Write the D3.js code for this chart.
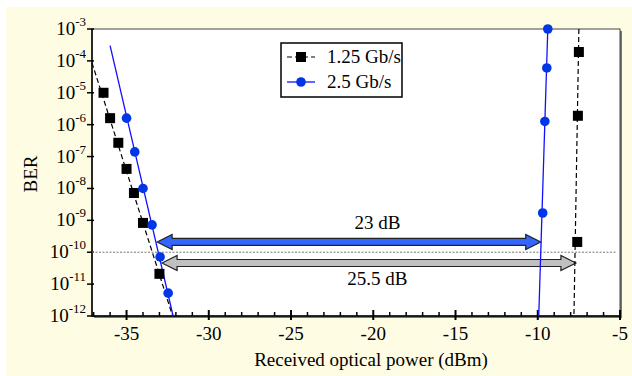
<!DOCTYPE html>
<html>
<head>
<meta charset="utf-8">
<script src="https://cdn.jsdelivr.net/npm/d3@7"></script>
<style>
  body { margin: 0; background: #fff; }
  svg, text, tspan { font-family: "Liberation Serif", Tinos, serif; }
  text { fill: #000; }
</style>
</head>
<body>
<svg width="632" height="376"></svg>
<script>
// measured points, 1.25 Gb/s (black squares)
var power125 = [-36.4, -36.0, -35.5, -35.0, -34.55, -34.0, -33.0, -7.6, -7.56, -7.5];
var ber125 = [1e-5, 1.6e-6, 2.7e-7, 4.1e-8, 7.2e-9, 8.3e-10, 2.1e-11, 2.1e-10, 1.9e-6, 1.9e-4];
// measured points, 2.5 Gb/s (blue circles)
var power25 = [-35.0, -34.5, -34.0, -33.45, -32.96, -32.47, -9.7, -9.57, -9.45, -9.39];
var ber25 = [1.6e-6, 1.4e-7, 1e-8, 7.2e-10, 7.1e-11, 5.2e-12, 1.7e-9, 1.26e-6, 6e-5, 1e-3];
// fitted lines (start / end)
var fit125Left = [[-37.1, 8.7e-5], [-32.2, 1e-12]];
var fit125Right = [[-7.5, 1e-3], [-7.8, 1e-12]];
var fit25Left = [[-36.0, 3e-4], [-32.17, 1e-12]];
var fit25Right = [[-9.39, 1e-3], [-9.94, 1e-12]];
// power penalty arrows
var arrows = [
  {x0: -33.14, x1: -9.82, ber: 2.1e-10, label: "23 dB", labelBer: 8.3e-10, fill: "#3366ff"},
  {x0: -32.84, x1: -7.68, ber: 4.6e-11, label: "25.5 dB", labelBer: 1.45e-11, fill: "#c0c0c0"}
];
var xTicks = [-35, -30, -25, -20, -15, -10, -5];
var yExps = [-3, -4, -5, -6, -7, -8, -9, -10, -11, -12];
var seriesNames = ["1.25 Gb/s", "2.5 Gb/s"];

var svg = d3.select("svg");
var margin = {top: 29, right: 12, bottom: 60, left: 92};
var width = 632, height = 376;

svg.append("rect")
  .attr("x", 6).attr("y", 7)
  .attr("width", 626).attr("height", 369)
  .attr("fill", "#fefde3");

var x = d3.scaleLinear().domain([-37.1, -5]).range([margin.left, width - margin.right]);
var y = d3.scaleLog().domain([1e-12, 1e-3]).range([height - margin.bottom, margin.top]);

// plot area with a small shadow
svg.append("rect")
  .attr("x", x.range()[0] + 2).attr("y", y.range()[1] + 2)
  .attr("width", x.range()[1] - x.range()[0]).attr("height", y.range()[0] - y.range()[1])
  .attr("fill", "#777");
svg.append("rect")
  .attr("x", x.range()[0]).attr("y", y.range()[1])
  .attr("width", x.range()[1] - x.range()[0]).attr("height", y.range()[0] - y.range()[1])
  .attr("fill", "#fff").attr("stroke", "#444").attr("stroke-width", 1);

// x axis
var xAxis = svg.append("g").attr("transform", "translate(0," + y.range()[0] + ")");
xAxis.append("line").attr("x1", x.range()[0]).attr("x2", x.range()[1])
  .attr("stroke", "#000").attr("stroke-width", 1.5);
xAxis.selectAll("line.minor").data(d3.range(-37, -4))
  .enter().append("line")
  .attr("x1", function(d) { return x(d); }).attr("x2", function(d) { return x(d); })
  .attr("y1", function(d) { return d % 5 === 0 ? -6 : -4; })
  .attr("y2", function(d) { return d % 5 === 0 ? 4 : 0; })
  .attr("stroke", "#000").attr("stroke-width", function(d) { return d % 5 === 0 ? 2 : 1.5; });
xAxis.selectAll("text").data(xTicks).enter().append("text")
  .attr("x", function(d) { return x(d); }).attr("y", 24)
  .attr("text-anchor", "middle").style("font-size", "19px")
  .text(function(d) { return d; });

// y axis
var yAxis = svg.append("g").attr("transform", "translate(" + x.range()[0] + ",0)");
yAxis.append("line").attr("y1", y.range()[0]).attr("y2", y.range()[1])
  .attr("stroke", "#000").attr("stroke-width", 1.5);
yAxis.selectAll("line.tick").data(yExps).enter().append("line")
  .attr("x1", -5).attr("x2", 2)
  .attr("y1", function(d) { return y(Math.pow(10, d)); })
  .attr("y2", function(d) { return y(Math.pow(10, d)); })
  .attr("stroke", "#000").attr("stroke-width", 1.5);
var yLab = yAxis.selectAll("text").data(yExps).enter().append("text")
  .attr("x", -6).attr("y", function(d) { return y(Math.pow(10, d)) + 6; })
  .attr("text-anchor", "end").style("font-size", "19px");
yLab.append("tspan").text("10");
yLab.append("tspan").attr("dy", -9).style("font-size", "13px")
  .text(function(d) { return "-" + Math.abs(d); });

// axis titles
svg.append("text")
  .attr("x", (x.range()[0] + x.range()[1]) / 2 + 15).attr("y", 366)
  .attr("text-anchor", "middle").style("font-size", "19px")
  .text("Received optical power (dBm)");
svg.append("text")
  .attr("transform", "translate(37," + 174 + ") rotate(-90)")
  .attr("text-anchor", "middle").style("font-size", "19px")
  .text("BER");

// reference level 1e-10
svg.append("line")
  .attr("x1", x.range()[0]).attr("x2", x.range()[1] - 3)
  .attr("y1", y(1e-10)).attr("y2", y(1e-10))
  .attr("stroke", "#777").attr("stroke-width", 1).attr("stroke-dasharray", "2,1.5");

// arrows
var bodyH = 3.5, headH = 7.5, headL = 15;
arrows.forEach(function(a) {
  var x0 = x(a.x0), x1 = x(a.x1), yc = y(a.ber);
  var pts = [
    [x0, yc], [x0 + headL, yc - headH], [x0 + headL, yc - bodyH],
    [x1 - headL, yc - bodyH], [x1 - headL, yc - headH], [x1, yc],
    [x1 - headL, yc + headH], [x1 - headL, yc + bodyH],
    [x0 + headL, yc + bodyH], [x0 + headL, yc + headH]
  ];
  svg.append("path")
    .attr("d", "M" + pts.join("L") + "Z")
    .attr("fill", a.fill).attr("stroke", "#222").attr("stroke-width", 1.2);
  svg.append("text")
    .attr("x", x(-19.75)).attr("y", y(a.labelBer) + 6)
    .attr("text-anchor", "middle").style("font-size", "19px")
    .text(a.label);
});

// fitted lines
var line = d3.line()
  .x(function(d) { return x(d[0]); })
  .y(function(d) { return y(d[1]); });
[fit125Left, fit125Right].forEach(function(f) {
  svg.append("path").datum(f).attr("d", line)
    .attr("fill", "none").attr("stroke", "#000").attr("stroke-width", 1.2)
    .attr("stroke-dasharray", "5,3");
});
[fit25Left, fit25Right].forEach(function(f) {
  svg.append("path").datum(f).attr("d", line)
    .attr("fill", "none").attr("stroke", "#1010ff").attr("stroke-width", 1.3);
});

// markers
var sq = 10;
svg.selectAll("rect.pt").data(d3.zip(power125, ber125)).enter().append("rect")
  .attr("class", "pt")
  .attr("x", function(d) { return x(d[0]) - sq / 2; })
  .attr("y", function(d) { return y(d[1]) - sq / 2; })
  .attr("width", sq).attr("height", sq).attr("fill", "#000");
svg.selectAll("circle.pt").data(d3.zip(power25, ber25)).enter().append("circle")
  .attr("class", "pt")
  .attr("cx", function(d) { return x(d[0]); })
  .attr("cy", function(d) { return y(d[1]); })
  .attr("r", 4.8).attr("fill", "#0036e8");

// legend
var legend = svg.append("g").attr("transform", "translate(281,43)");
legend.append("rect").attr("width", 121).attr("height", 54)
  .attr("fill", "#fff").attr("stroke", "#000").attr("stroke-width", 1.5);
legend.append("line").attr("x1", 6).attr("x2", 34).attr("y1", 14).attr("y2", 14)
  .attr("stroke", "#000").attr("stroke-width", 1.2).attr("stroke-dasharray", "5,3");
legend.append("rect").attr("x", 20 - sq / 2).attr("y", 14 - sq / 2)
  .attr("width", sq).attr("height", sq).attr("fill", "#000");
legend.append("line").attr("x1", 6).attr("x2", 34).attr("y1", 39).attr("y2", 39)
  .attr("stroke", "#1010ff").attr("stroke-width", 1.3);
legend.append("circle").attr("cx", 20).attr("cy", 39).attr("r", 4.8).attr("fill", "#0036e8");
legend.selectAll("text").data(seriesNames).enter().append("text")
  .attr("x", 46).attr("y", function(d, i) { return 20 + i * 25; })
  .style("font-size", "19px")
  .text(function(d) { return d; });
</script>
</body>
</html>
